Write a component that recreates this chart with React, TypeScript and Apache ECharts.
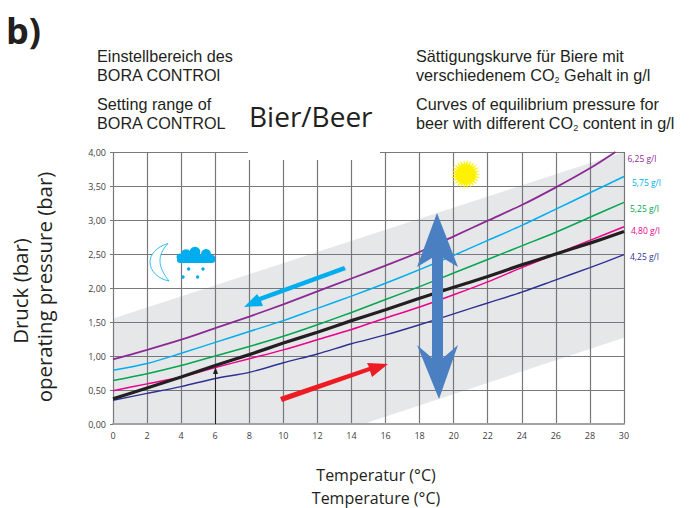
import React, { useEffect, useRef } from "react";
import * as echarts from "echarts";

const curveTemps = [0, 2, 4, 6, 8, 10, 12, 14, 16, 18, 20, 22, 24, 26, 28, 30];
const co625 = [0.95, 1.09, 1.24, 1.41, 1.58, 1.76, 1.95, 2.14, 2.33, 2.53, 2.76, 2.99, 3.22, 3.48, 3.76, null];
const co575 = [0.79, 0.89, 1.04, 1.2, 1.36, 1.52, 1.7, 1.88, 2.07, 2.27, 2.48, 2.7, 2.92, 3.16, 3.4, 3.64];
const co525 = [0.64, 0.74, 0.86, 1.0, 1.14, 1.29, 1.46, 1.64, 1.83, 2.02, 2.22, 2.42, 2.62, 2.82, 3.04, 3.26];
const co480 = [0.49, 0.59, 0.69, 0.83, 0.96, 1.09, 1.24, 1.39, 1.56, 1.72, 1.9, 2.09, 2.3, 2.5, 2.7, 2.9];
const co425 = [0.35, 0.45, 0.55, 0.67, 0.76, 0.9, 1.03, 1.18, 1.31, 1.46, 1.62, 1.78, 1.94, 2.12, 2.3, 2.49];
const control = [0.37, 0.53, 0.69, 0.86, 1.02, 1.19, 1.35, 1.52, 1.68, 1.85, 2.01, 2.17, 2.34, 2.5, 2.66, 2.83];
const co625End = [29.5, 4.0];
const bandOutline = [[0, 1.55], [30, 4.0], [30, 1.27], [14.7, 0], [0, 0]];

const FONT = "Open Sans";
const BLOCK_FONT = "Liberation Sans";

const pairs = (ys: (number | null)[]) =>
  curveTemps.map((t, i) => [t, ys[i]]).filter((p) => p[1] !== null);

function curve(name: string, data: any[], color: string, width: number, off: number[] | null) {
  return {
    type: "line",
    name,
    data,
    z: 4,
    smooth: 0.3,
    symbol: "none",
    lineStyle: { color, width },
    endLabel: off
      ? { show: true, formatter: name, color, fontSize: 8.5, fontFamily: FONT, offset: off }
      : { show: false },
  };
}

function sunPoints(cx: number, cy: number, n: number, r1: number, r2: number) {
  const pts: number[][] = [];
  for (let i = 0; i < n * 2; i++) {
    const r = i % 2 ? r1 : r2;
    const a = (Math.PI * i) / n;
    pts.push([cx + r * Math.cos(a), cy + r * Math.sin(a)]);
  }
  return pts;
}

echarts.graphic.registerShape(
  "moon",
  echarts.graphic.extendPath(
    "M168,243.5C156,247 150,255 150,262C150,271 158,279 169,281C162,272 160,266 160,261C160,255 162,250 168,243.5Z",
    {}
  )
);

const txt = (x: number, y: number, text: string, fontSize = 16, extra: any = {}) => ({
  type: "text",
  x,
  y,
  z: 60,
  style: {
    text,
    fontSize,
    lineHeight: Math.round(fontSize * 1.05),
    fontFamily: FONT,
    fill: "#231f20",
    textVerticalAlign: "middle",
    ...(text.includes("{s|")
      ? { rich: { s: { fontSize: 9, lineHeight: 9, verticalAlign: "bottom", fontFamily: BLOCK_FONT, fill: "#231f20" } } }
      : {}),
    ...extra,
  },
});

const block = { lineHeight: 19, fontFamily: BLOCK_FONT };

const poly = (points: number[][], fill: string) => ({
  type: "polygon",
  z: 50,
  shape: { points },
  style: { fill },
});

const circle = (cx: number, cy: number, r: number) => ({
  type: "circle",
  z: 50,
  shape: { cx, cy, r },
  style: { fill: "#00aeef" },
});

export default function App() {
  const ref = useRef<HTMLDivElement>(null);
  useEffect(() => {
    const chart = echarts.init(ref.current!, null, { renderer: "svg" });
    const option: any = {
      animation: false,
      backgroundColor: "#fff",
      grid: { left: 113, right: 74, top: 152, bottom: 84, containLabel: false },
      xAxis: {
        type: "value",
        min: 0,
        max: 30,
        interval: 2,
        axisLine: { show: true, lineStyle: { color: "#a0a2a5", width: 2 } },
        axisTick: { show: false },
        axisLabel: { color: "#414042", fontSize: 9, fontFamily: FONT, margin: 7 },
        splitLine: { show: true, lineStyle: { color: "#77787b", width: 1.2 } },
      },
      yAxis: {
        type: "value",
        min: 0,
        max: 4,
        interval: 0.5,
        axisLine: { show: false },
        axisTick: { show: true, length: 3, lineStyle: { color: "#77787b" } },
        axisLabel: {
          color: "#414042",
          fontSize: 9,
          fontFamily: FONT,
          margin: 7,
          formatter: (v: number) => v.toFixed(2).replace(".", ","),
        },
        splitLine: { show: true, lineStyle: { color: "#77787b", width: 1.2 } },
      },
      series: [
        {
          type: "custom",
          z: -1,
          data: bandOutline,
          silent: true,
          renderItem: (params: any, api: any) =>
            params.dataIndex === 0
              ? {
                  type: "polygon",
                  shape: { points: bandOutline.map((p) => api.coord(p)) },
                  style: { fill: "#e6e7e8" },
                }
              : null,
        },
        curve("6,25 g/l", [...pairs(co625), co625End], "#8b2a94", 1.8, [4, 6]),
        curve("5,75 g/l", pairs(co575), "#00aeef", 1.5, [0, 6]),
        curve("5,25 g/l", pairs(co525), "#00a651", 1.5, [-2, 6]),
        curve("4,80 g/l", pairs(co480), "#ec008c", 1.5, [-1, 4]),
        curve("4,25 g/l", pairs(co425), "#2e3192", 1.4, [-2, 2]),
        curve("control", pairs(control), "#231f20", 3.2, null),
      ],
      graphic: {
        elements: [
          { type: "rect", z: 50, shape: { x: 248, y: 148, width: 132, height: 12 }, style: { fill: "#fff" } },
          txt(6, 30, "b)", 36, { fontWeight: "bold" }),
          txt(97, 65.5, "Einstellbereich des\nBORA CONTROl", 16.2, block),
          txt(97, 113.5, "Setting range of\nBORA CONTROL", 16.2, block),
          txt(249, 116, "Bier/Beer", 28),
          txt(416, 65.5, "Sättigungskurve für Biere mit\nverschiedenem CO{s|2} Gehalt in g/l", 16.2, block),
          txt(416, 113.5, "Curves of equilibrium pressure for\nbeer with different CO{s|2} content in g/l", 16.2, block),
          txt(376, 475, "Temperatur (°C)", 16, { textAlign: "center" }),
          txt(376, 498, "Temperature (°C)", 16, { textAlign: "center" }),
          {
            type: "text", x: 20, y: 291, rotation: Math.PI / 2, z: 60,
            style: { text: "Druck (bar)", fontSize: 20.4, lineHeight: 22, fontFamily: FONT, fill: "#231f20", textAlign: "center", textVerticalAlign: "middle" },
          },
          {
            type: "text", x: 44, y: 287, rotation: Math.PI / 2, z: 60,
            style: { text: "operating pressure (bar)", fontSize: 20.4, lineHeight: 22, fontFamily: FONT, fill: "#231f20", textAlign: "center", textVerticalAlign: "middle" },
          },
          // double blue arrow
          poly(
            [[437, 213], [458, 267], [443, 258], [443, 358], [458, 345], [439, 399], [417, 345], [432, 358], [432, 258], [417, 267]],
            "#4a7fc1"
          ),
          // cyan arrow
          poly(
            [[344, 266], [346, 270], [261, 301], [263, 306], [244, 307], [257, 294], [259, 297]],
            "#00aeef"
          ),
          // red arrow
          poly(
            [[280, 397], [282, 402], [370, 371], [372, 377], [388, 364], [367, 363], [369, 367]],
            "#ed1c24"
          ),
          // thin black arrow
          { type: "line", z: 50, shape: { x1: 215.5, y1: 424, x2: 215.5, y2: 372 }, style: { stroke: "#231f20", lineWidth: 1 } },
          poly([[215.5, 367], [218, 374], [213, 374]], "#231f20"),
          // moon
          { type: "moon", z: 50, style: { fill: "#fff", stroke: "#00aeef", lineWidth: 0.8 } },
          // cloud
          { type: "rect", z: 50, shape: { x: 177, y: 255, width: 38, height: 8, r: 3 }, style: { fill: "#00aeef" } },
          circle(180, 257, 3.5),
          circle(186, 254, 4.8),
          circle(195, 252, 5.3),
          circle(206, 254, 5),
          circle(212, 259, 3.5),
          circle(188.6, 269, 1.7),
          circle(203, 269, 1.7),
          circle(183, 277, 1.7),
          circle(197.6, 277, 1.7),
          // sun
          poly(sunPoints(465.7, 174.3, 26, 9.5, 15), "#fff200"),
        ],
      },
    };
    chart.setOption(option);
    return () => chart.dispose();
  }, []);
  return <div ref={ref} style={{ position: "absolute", left: 0, top: 0, width: 698, height: 508 }} />;
}
